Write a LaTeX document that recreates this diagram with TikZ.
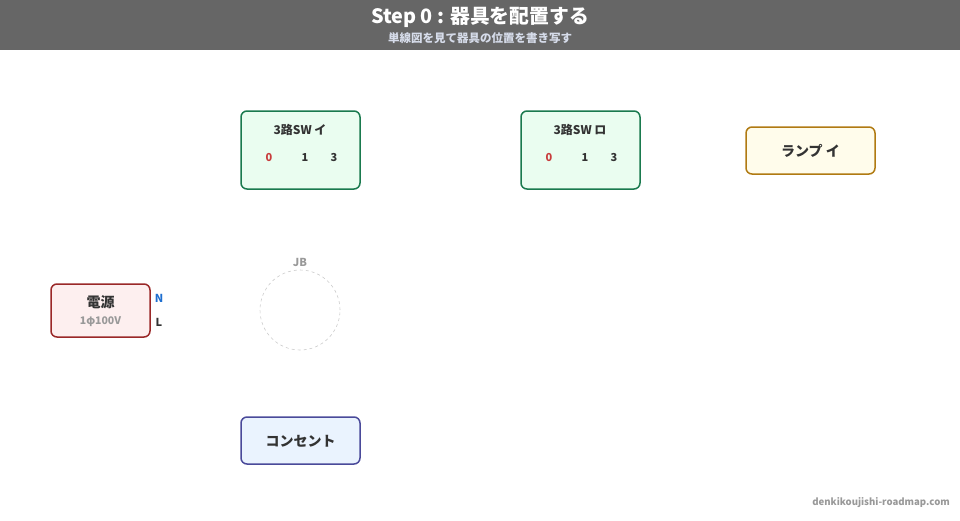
\documentclass[tikz,border=0pt]{standalone}
\usepackage{fontspec}
\setmainfont{Noto Sans CJK JP}
\definecolor{hdr}{HTML}{666666}
\definecolor{subt}{HTML}{D6DCEA}
\definecolor{txt}{HTML}{333333}
\definecolor{swfill}{HTML}{EAFDF0}
\definecolor{swdraw}{HTML}{1A7A4E}
\definecolor{lampfill}{HTML}{FFFCEB}
\definecolor{lampdraw}{HTML}{B07A12}
\definecolor{pwfill}{HTML}{FDEFEF}
\definecolor{pwdraw}{HTML}{9A2828}
\definecolor{cofill}{HTML}{EAF3FE}
\definecolor{codraw}{HTML}{4A4A9A}
\definecolor{tred}{HTML}{C83C3C}
\definecolor{nblue}{HTML}{1E6FD0}
\definecolor{gr}{HTML}{999999}
\definecolor{jbc}{HTML}{CCCCCC}
\tikzset{
  box/.style={draw, line width=1.5pt, rounded corners=6pt, inner sep=0pt},
  lbl/.style={font=\bfseries\fontsize{14}{16}\selectfont, text=txt, inner sep=0pt},
  swlbl/.style={font=\bfseries\fontsize{12}{14}\selectfont, text=txt, inner sep=0pt},
  term/.style={font=\bfseries\fontsize{11}{13}\selectfont, text=txt, inner sep=0pt},
}
\begin{document}
\begin{tikzpicture}[x=1pt,y=-1pt]
\useasboundingbox (0,0) rectangle (960,520);
\fill[hdr] (0,0) rectangle (960,50);
\node[font=\bfseries\fontsize{19.8}{22}\selectfont, text=white, inner sep=0pt] (title) at (480,17) {Step 0 : 器具を配置する};
\node[font=\bfseries\fontsize{11.5}{13}\selectfont, text=subt, inner sep=0pt] (sub) at (480,38) {単線図を見て器具の位置を書き写す};
% switch i
\node[box, draw=swdraw, fill=swfill, minimum width=119pt, minimum height=78pt] (swi) at (300.5,150) {};
\node[swlbl] (swit) at (300,130) {3路SW イ};
\node[term, text=tred] (swi0) at (269,158) {0};
\node[term] (swi1) at (305,158) {1};
\node[term] (swi3) at (334,158) {3};
% switch ro
\node[box, draw=swdraw, fill=swfill, minimum width=119pt, minimum height=78pt] (swr) at (580.5,150) {};
\node[swlbl] (swrt) at (580,130) {3路SW ロ};
\node[term, text=tred] (swr0) at (549,158) {0};
\node[term] (swr1) at (585,158) {1};
\node[term] (swr3) at (614,158) {3};
% lamp
\node[box, draw=lampdraw, fill=lampfill, minimum width=129pt, minimum height=47pt] (lamp) at (810.5,150.5) {};
\node[lbl] (lampt) at (810.5,151) {ランプ イ};
% power
\node[box, draw=pwdraw, fill=pwfill, minimum width=99pt, minimum height=53pt] (pw) at (100.5,310.5) {};
\node[lbl] (pwt) at (100.5,302) {電源};
\node[font=\bfseries\fontsize{10.5}{12}\selectfont, text=gr, inner sep=0pt] (pwv) at (100.5,322) {1φ100V};
\node[term, text=nblue] (pn) at (159,298) {N};
\node[term] (pl) at (159,322.5) {L};
% JB
\node[draw=jbc, dashed, circle, minimum size=80pt, inner sep=0pt, line width=0.6pt] (jb) at (300,310) {};
\node[term, text=gr] (jbt) at (300,262) {JB};
% outlet
\node[box, draw=codraw, fill=cofill, minimum width=119pt, minimum height=47pt] (co) at (300.5,440.5) {};
\node[lbl] (cot) at (300.5,441) {コンセント};
% footer
\node[font=\bfseries\fontsize{9.6}{12}\selectfont, text=gr, anchor=east, inner sep=0pt] (foot) at (950,503) {denkikoujishi-roadmap.com};
\end{tikzpicture}
\end{document}
